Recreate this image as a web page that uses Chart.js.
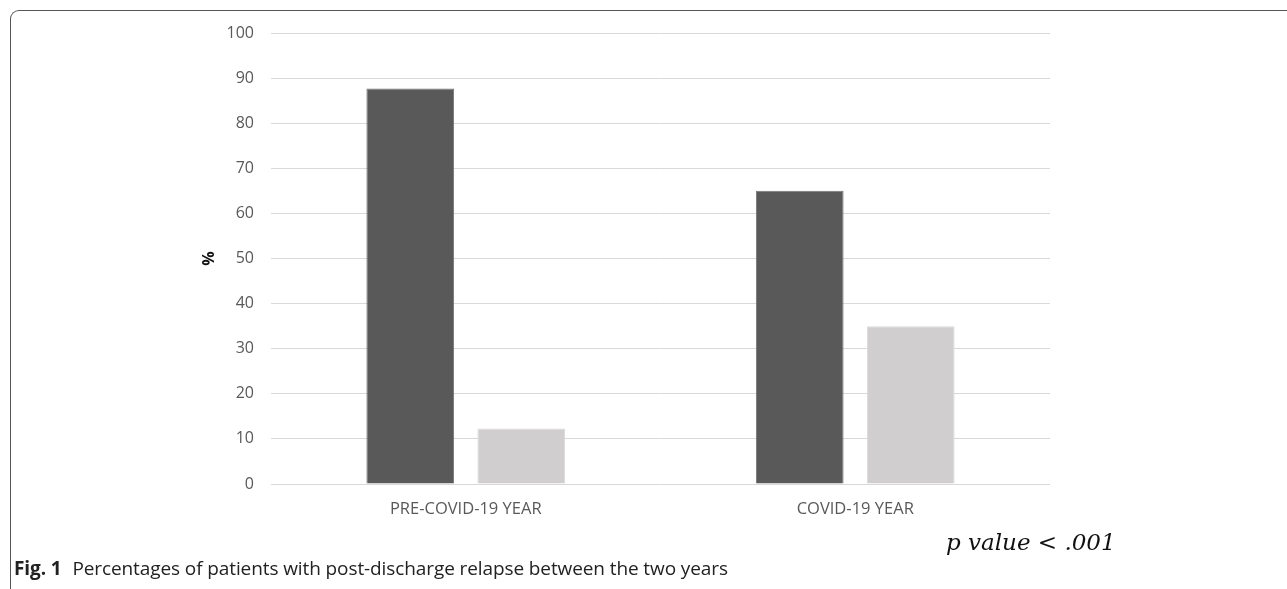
<!DOCTYPE html>
<html>
<head>
<meta charset="utf-8">
<script src="https://cdn.jsdelivr.net/npm/chart.js@4.4.0/dist/chart.umd.min.js"></script>
<style>
  body { margin: 0; background: #fff; }
  #wrap { position: relative; width: 1287px; height: 589px; overflow: hidden; }
  #frame {
    position: absolute; left: 10px; top: 10px; width: 1300px; height: 600px;
    border-top: 1px solid #555; border-left: 1px solid #555;
    border-radius: 9px 0 0 0;
  }
  #cv { position: absolute; left: 0; top: 0; }
  #pval {
    position: absolute; left: 946px; top: 527px; line-height: 30px;
    font-family: "DejaVu Serif", "Liberation Serif", serif; font-style: italic;
    font-size: 23px; color: #111;
  }
  #caption {
    position: absolute; left: 14px; top: 555px; line-height: 26px;
    font-family: "Open Sans", sans-serif; font-size: 19px; color: #222;
    letter-spacing: -0.1px;
  }
  #caption b { font-weight: 700; margin-right: 6px; }
</style>
</head>
<body>
<div id="wrap">
  <div id="frame"></div>
  <canvas id="cv" width="1287" height="589"></canvas>
  <div id="pval">p value &lt; .001</div>
  <div id="caption"><b>Fig. 1</b> Percentages of patients with post-discharge relapse between the two years</div>
</div>
<script>
const categories = ['PRE-COVID-19 YEAR', 'COVID-19 YEAR'];
const relapse = [87.7, 65.0];
const noRelapse = [12.3, 35.0];
const yTicks = [0, 10, 20, 30, 40, 50, 60, 70, 80, 90, 100];

const ctx = document.getElementById('cv').getContext('2d');
new Chart(ctx, {
    type: 'bar',
    data: {
        labels: categories,
        datasets: [
            { data: relapse, backgroundColor: '#595959', borderColor: '#767676', borderWidth: 1 },
            { data: noRelapse, backgroundColor: '#d0cece', borderColor: '#dcdada', borderWidth: 1 }
        ]
    },
    options: {
        responsive: false,
        animation: false,
        layout: { padding: { left: 198, right: 237, top: 33, bottom: 65 } },
        datasets: { bar: { categoryPercentage: 0.57, barPercentage: 0.79 } },
        plugins: { legend: { display: false }, tooltip: { enabled: false } },
        scales: {
            x: {
                grid: { display: false },
                border: { display: false },
                ticks: { color: '#595959', padding: 7, font: { family: 'Open Sans', size: 16.5 } },
                afterFit: (s) => { s.height = 40; }
            },
            y: {
                min: 0, max: 100,
                afterBuildTicks: (s) => { s.ticks = yTicks.map(v => ({ value: v })); },
                grid: { color: '#d9d9d9', lineWidth: 1, drawTicks: false },
                border: { display: false },
                ticks: { color: '#595959', padding: 17, font: { family: 'Open Sans', size: 16 } },
                title: { display: true, text: '%', color: '#111', padding: { top: 2, bottom: 0 }, font: { family: 'Open Sans', size: 16, weight: 'bold' } },
                afterFit: (s) => { s.width = 73; }
            }
        }
    }
});
</script>
</body>
</html>
